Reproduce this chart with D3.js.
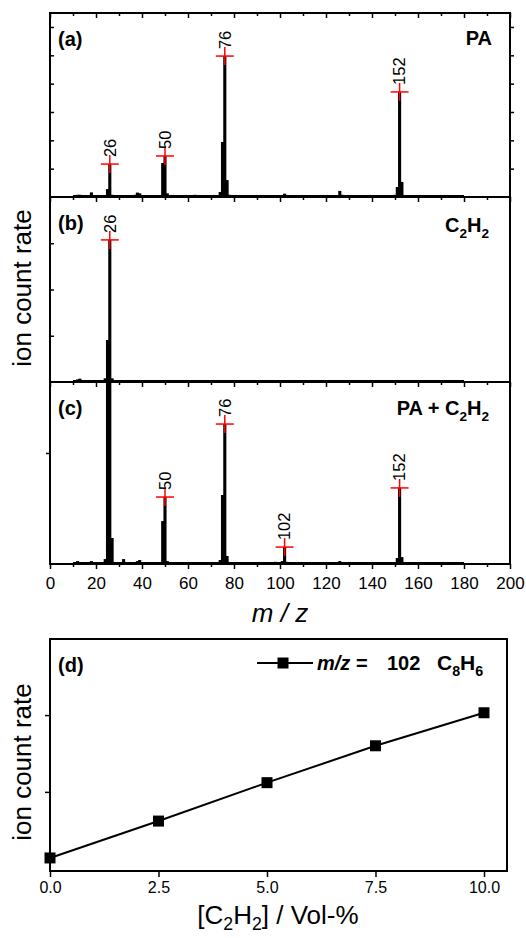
<!DOCTYPE html>
<html>
<head>
<meta charset="utf-8">
<script src="https://cdn.jsdelivr.net/npm/d3@7"></script>
<style>
body { margin: 0; background: #fff; }
text { font-family: "Liberation Sans", Arial, sans-serif; }
</style>
</head>
<body>
<script>
// mass spectra, intensities in % of panel height
var mzA = [12,13,14,18,24,25,26,27,37,38,39,49,50,51,62,63,74,75,76,77,78,87,98,102,115,126,127,150,151,152,153,176];
var intA = [1.2,1.2,1.0,2.5,1.0,4.3,17.9,1.2,1.2,2.4,2.0,18.5,22.3,2.0,1.0,1.2,2.7,29.9,76.6,9.2,1.2,1.0,1.0,1.8,1.0,3.3,1.2,1.2,5.4,57.1,8.2,0.8];
var mzB = [12,13,14,24,25,26,27,28,37,39,50,76,100,126,152];
var intB = [1.4,1.8,1.0,2.0,22.7,76.8,2.0,1.0,1.0,0.8,0.8,0.8,0.8,0.8,0.8];
var mzC = [12,13,18,24,25,26,27,28,32,38,39,49,50,51,62,74,75,76,77,78,98,101,102,103,126,127,150,151,152,153,176];
var intC = [1.6,1.0,1.6,2.7,110,110,14.3,1.0,2.7,1.6,2.2,23.6,36.8,1.6,1.0,2.2,37.9,76.9,4.4,1.0,1.2,1.6,9.3,1.2,1.6,1.0,1.0,3.3,41.8,3.8,1.0];
var peaksA = [26, 50, 76, 152];
var peaksB = [26];
var peaksC = [50, 76, 102, 152];
var baseRange = [10, 180];
var mzTicks = [0, 20, 40, 60, 80, 100, 120, 140, 160, 180, 200];

// panel (d)
var volPct = [0, 2.5, 5, 7.5, 10];
var rate102 = [0.14, 0.62, 1.12, 1.60, 2.03];
var volTicks = [0, 2.5, 5, 7.5, 10];

var svg = d3.select('body').append('svg')
    .attr('width', 526)
    .attr('height', 938);

var left = 50, right = 510;
var x = d3.scaleLinear().domain([0, 200]).range([left, right]);
var bw = x(1.35) - x(0);

var panels = [
  {name: '(a)', top: 13, bottom: 197, mz: mzA, val: intA, peaks: peaksA, yt: [15.4,30.8,46.2,61.6,77,92.4]},
  {name: '(b)', top: 197, bottom: 382, mz: mzB, val: intB, peaks: peaksB, yt: [25,50,75]},
  {name: '(c)', top: 382, bottom: 564, mz: mzC, val: intC, peaks: peaksC, yt: [61]}
];

function formula(sel, parts, size) {
  // parts: [text, isSub]; subscripts shifted down, next part shifted back
  var shift = 0;
  parts.forEach(function(p) {
    var t = sel.append('tspan').text(p[0]);
    if (p[1]) {
      t.attr('font-size', size * 0.68).attr('dy', 6 - shift);
      shift = 6;
    } else {
      if (shift) t.attr('dy', -shift);
      shift = 0;
    }
  });
}

panels.forEach(function(p, i) {
  var y = d3.scaleLinear().domain([0, 100]).range([p.bottom, p.top]).clamp(true);
  var g = svg.append('g');

  g.append('path')
    .datum(baseRange)
    .attr('d', d3.line().x(function(d) { return x(d); }).y(y(0.7)))
    .attr('stroke', '#000').attr('stroke-width', 1.3).attr('fill', 'none');

  g.selectAll('rect.bar')
    .data(p.mz)
    .enter().append('rect')
    .attr('x', function(d) { return x(d) - bw / 2; })
    .attr('width', bw)
    .attr('y', function(d, j) { return y(p.val[j]); })
    .attr('height', function(d, j) { return p.bottom - y(p.val[j]); })
    .attr('fill', '#000');

  var pk = g.selectAll('g.peak')
    .data(p.peaks)
    .enter().append('g')
    .attr('transform', function(d) {
      return 'translate(' + x(d) + ',' + y(p.val[p.mz.indexOf(d)]) + ')';
    });
  pk.append('line').attr('x1', -9).attr('x2', 9).attr('stroke', '#ff0000').attr('stroke-width', 1.5);
  pk.append('line').attr('y1', -9).attr('y2', 9).attr('stroke', '#ff0000').attr('stroke-width', 1.5);
  pk.append('text')
    .attr('transform', 'translate(0,-7) rotate(-90)')
    .attr('dy', '0.35em')
    .attr('font-size', 16.5)
    .text(function(d) { return d; });

  // y ticks
  g.append('g').attr('transform', 'translate(' + left + ',0)')
    .call(d3.axisLeft(y).tickValues(p.yt).tickSize(i === 2 ? 4 : -4).tickFormat(''))
    .call(function(a) { a.select('.domain').remove(); a.selectAll('line').attr('stroke-width', 1.5); });
  if (i === 0) {
    g.append('g').attr('transform', 'translate(' + right + ',0)')
      .call(d3.axisRight(y).tickValues(p.yt).tickSize(4).tickFormat(''))
      .call(function(a) { a.select('.domain').remove(); a.selectAll('line').attr('stroke-width', 1.5); });
  }

  g.append('rect')
    .attr('x', left).attr('y', p.top)
    .attr('width', right - left).attr('height', p.bottom - p.top)
    .attr('fill', 'none').attr('stroke', '#000').attr('stroke-width', 2);

  g.append('text').attr('x', 58).attr('y', p.top + 33)
    .attr('font-size', 20).attr('font-weight', 'bold').text(p.name);
});

// x ticks at each panel edge
[13, 197, 382, 564].forEach(function(yy, i) {
  var last = i === 3;
  svg.append('g').attr('transform', 'translate(0,' + yy + ')')
    .call(d3.axisBottom(x).tickValues(d3.range(10, 200, 20)).tickSize(3).tickFormat(''))
    .call(function(a) { a.select('.domain').remove(); a.selectAll('line').attr('stroke-width', 1.5); });
  svg.append('g').attr('transform', 'translate(0,' + yy + ')')
    .call(d3.axisBottom(x).tickValues(mzTicks).tickSize(5).tickPadding(8).tickFormat(last ? d3.format('d') : ''))
    .call(function(a) {
      a.select('.domain').remove();
      a.selectAll('line').attr('stroke-width', 1.5);
      a.selectAll('text').attr('font-size', 17).attr('font-family', '"Liberation Sans", Arial, sans-serif').attr('fill', '#000');
    });
});

// sample labels
svg.append('text').attr('x', 492).attr('y', 45).attr('text-anchor', 'end')
  .attr('font-size', 20).attr('font-weight', 'bold').text('PA');
formula(svg.append('text').attr('x', 489).attr('y', 232).attr('text-anchor', 'end')
  .attr('font-size', 20).attr('font-weight', 'bold'), [['C'], ['2', 1], ['H'], ['2', 1]], 20);
formula(svg.append('text').attr('x', 489).attr('y', 415).attr('text-anchor', 'end')
  .attr('font-size', 20).attr('font-weight', 'bold'), [['PA + C'], ['2', 1], ['H'], ['2', 1]], 20);

svg.append('text').attr('transform', 'translate(31,288) rotate(-90)')
  .attr('text-anchor', 'middle').attr('font-size', 26).text('ion count rate');
svg.append('text').attr('x', 280).attr('y', 622)
  .attr('text-anchor', 'middle').attr('font-size', 26).attr('font-style', 'italic').text('m / z');

// panel (d)
var dTop = 639, dBottom = 871, dLeft = 50, dRight = 507;
var xd = d3.scaleLinear().domain([0, 10.53]).range([dLeft, dRight]);
var yd = d3.scaleLinear().domain([-0.03, 2.99]).range([dBottom, dTop]);

svg.append('path')
  .datum(volPct)
  .attr('d', d3.line().x(function(d) { return xd(d); }).y(function(d, j) { return yd(rate102[j]); }))
  .attr('stroke', '#000').attr('stroke-width', 2).attr('fill', 'none');

svg.selectAll('rect.pt')
  .data(volPct)
  .enter().append('rect')
  .attr('x', function(d) { return xd(d) - 5.5; })
  .attr('y', function(d, j) { return yd(rate102[j]) - 5.5; })
  .attr('width', 11).attr('height', 11)
  .attr('fill', '#000');

svg.append('g').attr('transform', 'translate(0,' + dBottom + ')')
  .call(d3.axisBottom(xd).tickValues(volTicks).tickSize(6).tickPadding(5).tickFormat(d3.format('.1f')))
  .call(function(a) {
    a.select('.domain').remove();
    a.selectAll('line').attr('stroke-width', 1.5);
    a.selectAll('text').attr('font-size', 16).attr('font-family', '"Liberation Sans", Arial, sans-serif').attr('fill', '#000');
  });
svg.append('g').attr('transform', 'translate(' + dLeft + ',0)')
  .call(d3.axisLeft(yd).tickValues([1, 2]).tickSize(5).tickFormat(''))
  .call(function(a) { a.select('.domain').remove(); a.selectAll('line').attr('stroke-width', 1.5); });

svg.append('rect')
  .attr('x', dLeft).attr('y', dTop)
  .attr('width', dRight - dLeft).attr('height', dBottom - dTop)
  .attr('fill', 'none').attr('stroke', '#000').attr('stroke-width', 2);

svg.append('text').attr('x', 58).attr('y', 672)
  .attr('font-size', 20).attr('font-weight', 'bold').text('(d)');

// legend
svg.append('line').attr('x1', 257).attr('x2', 313).attr('y1', 663).attr('y2', 663)
  .attr('stroke', '#000').attr('stroke-width', 2);
svg.append('rect').attr('x', 283 - 5.5).attr('y', 663 - 5.5).attr('width', 11).attr('height', 11).attr('fill', '#000');
var lg = svg.append('text').attr('y', 670).attr('font-size', 20).attr('font-weight', 'bold');
lg.append('tspan').attr('x', 317).attr('font-style', 'italic').text('m/z');
lg.append('tspan').text(' =');
lg.append('tspan').attr('x', 387).text('102');
var lf = svg.append('text').attr('x', 437).attr('y', 670).attr('font-size', 21).attr('font-weight', 'bold');
formula(lf, [['C'], ['8', 1], ['H'], ['6', 1]], 21);

svg.append('text').attr('transform', 'translate(31,762) rotate(-90)')
  .attr('text-anchor', 'middle').attr('font-size', 26).text('ion count rate');
formula(svg.append('text').attr('x', 278).attr('y', 924).attr('text-anchor', 'middle').attr('font-size', 26),
  [['[C'], ['2', 1], ['H'], ['2', 1], ['] / Vol-%']], 26);
</script>
</body>
</html>
